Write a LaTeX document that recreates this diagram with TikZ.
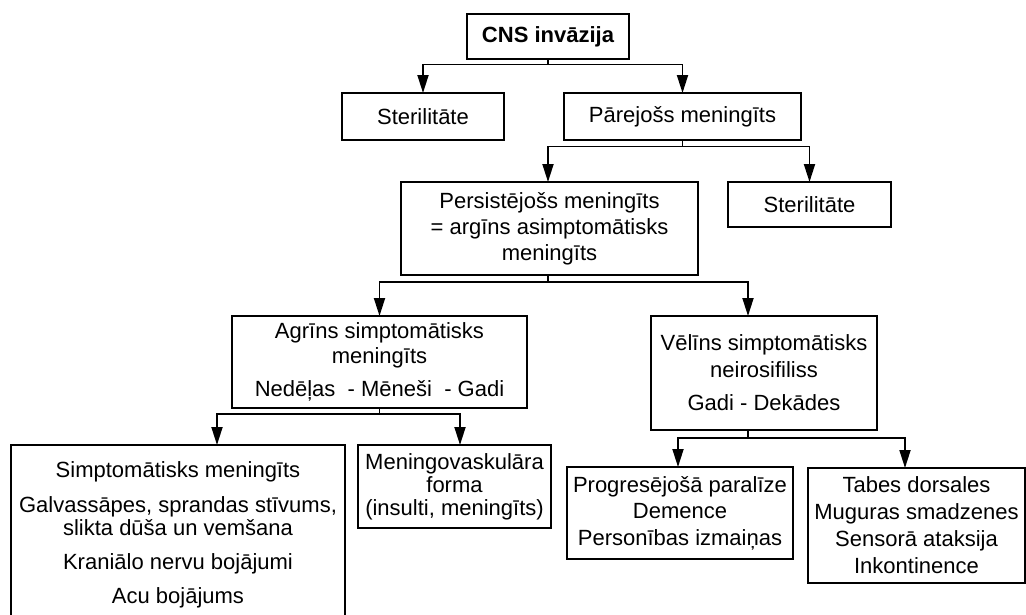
\documentclass[tikz,border=0pt]{standalone}
\usepackage{fontspec}
\setmainfont{Liberation Sans}
\usetikzlibrary{arrows.meta,calc}
\tikzset{
  box/.style={draw=black, line width=1.8pt, rectangle, inner sep=0pt, outer sep=0pt,
              align=center, font=\fontsize{22}{26}\selectfont},
  link/.style={draw=black, line width=1.8pt},
  arr/.style={link, -{Triangle[length=18pt,width=11pt]}},
}
\begin{document}
\begin{tikzpicture}[x=1pt,y=-1pt]
\useasboundingbox (0,0) rectangle (1026,614);
\fill[white] (0,0) rectangle (1026,614);

\node[box, minimum width=162pt, minimum height=45pt] (cns) at (548,36.5) {\bfseries CNS invāzija};
\node[box, minimum width=162pt, minimum height=47pt] (ster1) at (423,116.5) {Sterilitāte};
\node[box, minimum width=237pt, minimum height=47pt] (parej) at (682.5,116.5) {Pārejošs meningīts};
\node[box, minimum width=297pt, minimum height=93pt] (pers) at (549.5,228.5)
  {Persistējošs meningīts\\= argīns asimptomātisks\\meningīts};
\node[box, minimum width=163pt, minimum height=45pt] (ster2) at (809.5,204.5) {Sterilitāte};
\node[box, minimum width=295pt, minimum height=92pt, font=\fontsize{22}{25}\selectfont] (agr) at (379.5,362)
  {Agrīns simptomātisks\\meningīts\\[8pt]Nedēļas\ \ - Mēneši\ \ - Gadi};
\node[box, minimum width=226pt, minimum height=114pt, font=\fontsize{22}{27}\selectfont] (vel) at (764,373)
  {Vēlīns simptomātisks\\neirosifiliss\\[6pt]Gadi - Dekādes};
\node[box, minimum width=334pt, minimum height=180pt, font=\fontsize{22}{23}\selectfont] (simp) at (178,535)
  {Simptomātisks meningīts\\[12pt]Galvassāpes, sprandas stīvums,\\slikta dūša un vemšana\\[11pt]Kraniālo nervu bojājumi\\[11pt]Acu bojājums};
\node[box, minimum width=193pt, minimum height=83pt, font=\fontsize{22}{23}\selectfont] (meningo) at (454.5,486.5)
  {Meningovaskulāra\\forma\\(insulti, meningīts)};
\node[box, minimum width=226pt, minimum height=92pt, font=\fontsize{22}{26.5}\selectfont] (prog) at (680,513)
  {Progresējošā paralīze\\Demence\\Personības izmaiņas};
\node[box, minimum width=217pt, minimum height=115pt, font=\fontsize{22}{27}\selectfont] (tabes) at (916.5,525.5)
  {Tabes dorsales\\Muguras smadzenes\\Sensorā ataksija\\Inkontinence};

% connectors
\draw[link] (cns.south) -- ++(0,5.5) coordinate (j1);
\draw[arr] (j1) -| (ster1.north);
\draw[arr] (j1) -| (parej.north);

\draw[link] (parej.south) -- ++(0,6.5) coordinate (j2);
\draw[arr] (j2) -| ([xshift=-1.5pt]pers.north);
\draw[arr] (j2) -| (ster2.north);

\draw[link] ([xshift=-1.5pt]pers.south) -- ++(0,7) coordinate (j3);
\draw[arr] (j3) -| (agr.north);
\draw[arr] (j3) -| ([xshift=-16pt]vel.north);

\draw[link] (agr.south) -- ++(0,6) coordinate (j4);
\draw[arr] (j4) -| ([xshift=39pt]simp.north);
\draw[arr] (j4) -| ([xshift=5.5pt]meningo.north);

\draw[link] ([xshift=-16pt]vel.south) -- ++(0,8) coordinate (j5);
\draw[arr] (j5) -| ([xshift=-2pt]prog.north);
\draw[arr] (j5) -| ([xshift=-11.5pt]tabes.north);
\end{tikzpicture}
\end{document}
